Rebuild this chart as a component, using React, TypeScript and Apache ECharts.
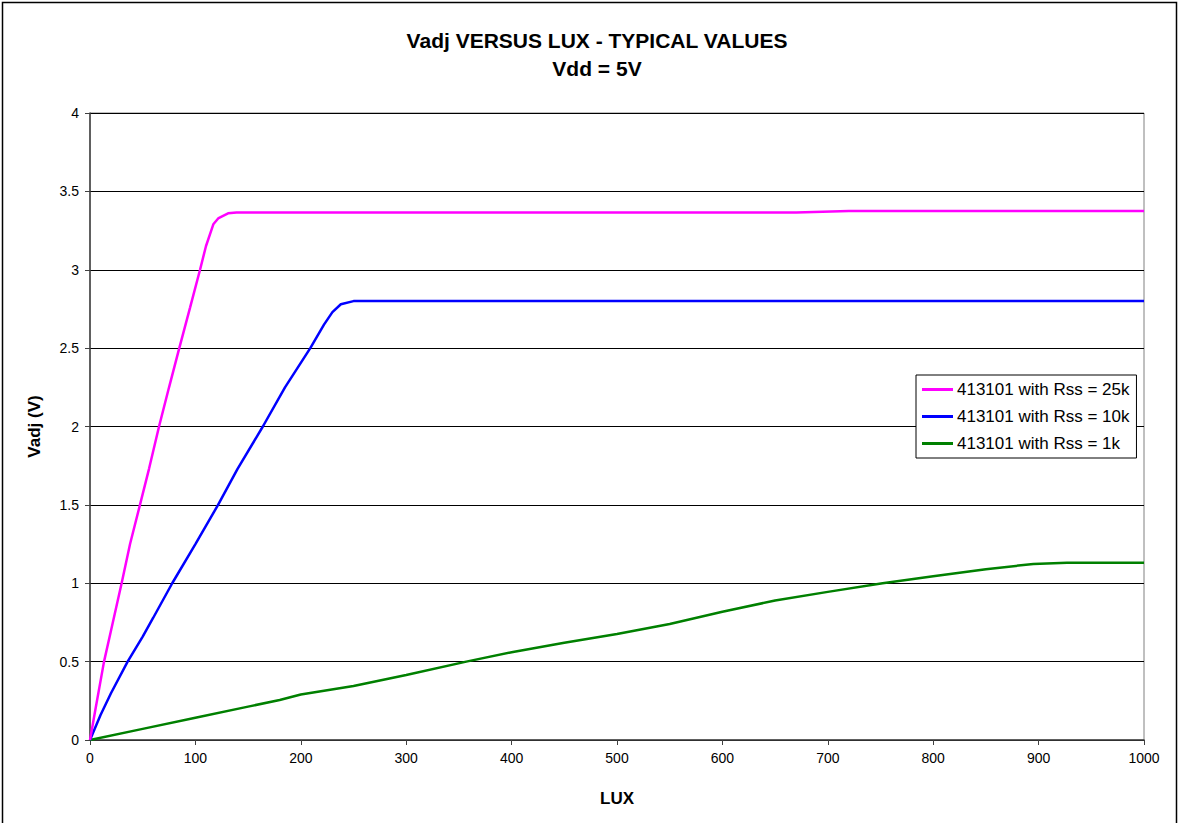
import React, { useEffect, useRef } from "react";
import * as echarts from "echarts";

const seriesNames = ["413101 with Rss = 25k", "413101 with Rss = 10k", "413101 with Rss = 1k"];
const seriesColors = ["#ff00ff", "#0000ff", "#008000"];

const lux25 = [0, 5, 13.3, 20, 30, 38, 47.4, 56, 65.5, 75, 84.7, 95, 104.4, 110, 117, 122, 131, 139, 300, 500, 670, 720, 800, 1000];
const volt25 = [0, 0.19, 0.5, 0.7, 1.0, 1.25, 1.5, 1.73, 2.0, 2.25, 2.5, 2.76, 3.0, 3.15, 3.29, 3.33, 3.36, 3.365, 3.365, 3.365, 3.365, 3.375, 3.375, 3.375];

const lux10 = [0, 10, 20, 35.7, 50, 60, 78, 100, 121.5, 140, 164, 185, 209, 222, 230, 238, 250, 400, 600, 800, 1000];
const volt10 = [0, 0.16, 0.3, 0.5, 0.66, 0.78, 1.0, 1.25, 1.5, 1.73, 2.0, 2.25, 2.5, 2.65, 2.73, 2.78, 2.8, 2.8, 2.8, 2.8, 2.8];

const lux1 = [0, 50, 100, 150, 180, 200, 250, 300, 357, 400, 450, 500, 550, 600, 650, 700, 752, 800, 850, 895, 927, 1000];
const volt1 = [0, 0.071, 0.142, 0.213, 0.255, 0.29, 0.345, 0.415, 0.5, 0.56, 0.62, 0.676, 0.74, 0.818, 0.89, 0.945, 1.0, 1.045, 1.09, 1.123, 1.13, 1.13];

const titleLines = ["Vadj VERSUS LUX - TYPICAL VALUES", "Vdd = 5V"];
const xName = "LUX";
const yName = "Vadj (V)";

const FONT = "'Liberation Sans', Arial, sans-serif";

function pairs(xs: number[], ys: number[]) {
  return xs.map((x, i) => [x, ys[i]]);
}

export default function App() {
  const ref = useRef<HTMLDivElement>(null);
  useEffect(() => {
    if (!ref.current) return;
    const chart = echarts.init(ref.current, null, { renderer: "svg" });
    const datasets = [pairs(lux25, volt25), pairs(lux10, volt10), pairs(lux1, volt1)];
    chart.setOption({
      animation: false,
      backgroundColor: "#ffffff",
      textStyle: { fontFamily: FONT },
      graphic: [
        {
          type: "rect",
          shape: { x: 2.5, y: 2.5, width: 1174, height: 840 },
          style: { fill: "none", stroke: "#000", lineWidth: 1.5 },
          silent: true,
        },
      ],
      title: {
        text: titleLines.join("\n"),
        left: 592,
        textAlign: "center",
        top: 21,
        textStyle: { fontFamily: FONT, fontSize: 21, fontWeight: "bold", color: "#000", lineHeight: 28 },
      },
      legend: {
        orient: "vertical",
        left: 916,
        top: 375,
        backgroundColor: "#fff",
        borderColor: "#000",
        borderWidth: 1,
        borderRadius: 0,
        padding: [6, 7, 6, 6],
        itemGap: 10,
        itemWidth: 31,
        itemHeight: 3,
        icon: "rect",
        textStyle: { fontFamily: FONT, fontSize: 17, color: "#000", padding: [0, 0, 0, -1] },
        data: seriesNames,
      },
      grid: {
        left: 90,
        right: 36,
        top: 113,
        bottom: 83,
        show: true,
        borderColor: "#808080",
        borderWidth: 1,
        backgroundColor: "#fff",
      },
      xAxis: {
        type: "value",
        min: 0,
        max: 1000,
        interval: 100,
        name: xName,
        nameLocation: "middle",
        nameGap: 50,
        nameTextStyle: { fontFamily: FONT, fontSize: 17, fontWeight: "bold", color: "#000" },
        axisLine: { show: true, lineStyle: { color: "#404040", width: 1.5 } },
        axisTick: { show: true, inside: false, length: 5, lineStyle: { color: "#404040" } },
        axisLabel: { fontFamily: FONT, fontSize: 14, color: "#000", margin: 11, formatter: (v: number) => String(v) },
        splitLine: { show: false },
      },
      yAxis: {
        type: "value",
        min: 0,
        max: 4,
        interval: 0.5,
        name: yName,
        nameLocation: "middle",
        nameGap: 47,
        nameRotate: 90,
        nameTextStyle: { fontFamily: FONT, fontSize: 17, fontWeight: "bold", color: "#000" },
        axisLine: { show: true, lineStyle: { color: "#404040", width: 1.5 } },
        axisTick: { show: true, inside: false, length: 5, lineStyle: { color: "#404040" } },
        axisLabel: { fontFamily: FONT, fontSize: 14, color: "#000", margin: 11, formatter: (v: number) => String(v) },
        splitLine: { show: true, lineStyle: { color: "#000", width: 1 } },
      },
      series: seriesNames.map((name, i) => ({
        name,
        type: "line",
        data: datasets[i],
        showSymbol: false,
        symbol: "none",
        smooth: false,
        color: seriesColors[i],
        lineStyle: { color: seriesColors[i], width: 2.5 },
        z: 5 - i,
      })),
    });
    return () => chart.dispose();
  }, []);
  return (
    <div
      ref={ref}
      style={{ position: "absolute", left: 0, top: 0, width: 1180, height: 823 }}
    />
  );
}
